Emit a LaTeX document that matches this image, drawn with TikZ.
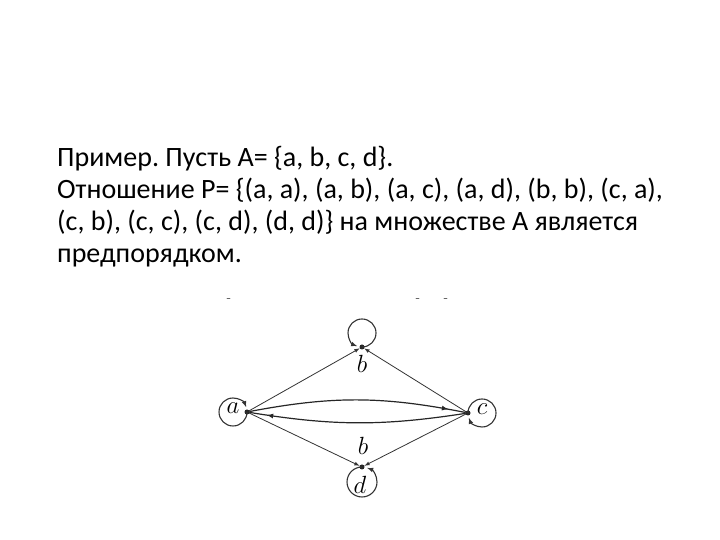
\documentclass[tikz,border=0pt]{standalone}
\usepackage{fontspec}
\setmainfont{Carlito}
\usetikzlibrary{arrows}
\usetikzlibrary{decorations.markings}
\frenchspacing

\begin{document}
\begin{tikzpicture}[x=1pt,y=1pt,cap=round,>=latex,
	every node/.style={inner sep=0pt},
	txt/.style={anchor=base west,font=\fontsize{28}{32}\selectfont},
	pt/.style={circle,fill=black!85,minimum size=5pt},
	lbl/.style={font=\fontsize{24}{24}\selectfont},
	edge/.style={->,draw=black!80,line width=0.8pt},
	curved/.style={draw=black!85,line width=1.2pt,postaction={decorate},
		decoration={markings,mark=at position 0.92 with {\arrow{latex}}}},
	ring/.style={->,draw=black!80,line width=1.1pt}]
	\useasboundingbox (0,0) rectangle (720,540);
	% text
	\node[txt] (l1) at (57,373) {Пример. Пусть А= \{a, b, c, d\}.};
	\node[txt] (l2) at (57,341) {Отношение P= \{(a, a), (a, b), (a, c), (a, d), (b, b), (c, a),};
	\node[txt] (l3) at (57,309) {(c, b), (c, c), (c, d), (d, d)\} на множестве А является};
	\node[txt] (l4) at (57,277) {предпорядком.};
	% stray marks
	\draw[black!60,line width=0.8pt] (227,242) -- (230,242);
	\draw[black!60,line width=0.8pt] (416,242) -- (419,242);
	\draw[black!60,line width=0.8pt] (444,242) -- (447,242);
	% points
	\node[pt] (a) at (247,128) {};
	\node[pt] (b) at (362,193) {};
	\node[pt] (c) at (468,127) {};
	\node[pt] (d) at (362,73) {};
	% loops
	\draw[ring] (a) arc[start angle=0,end angle=-340,radius=14];
	\draw[ring] (b) arc[start angle=-90,end angle=250,radius=14];
	\draw[ring] (c) arc[start angle=180,end angle=-160,radius=14];
	\draw[ring] (d) arc[start angle=90,end angle=430,radius=15];
	% labels
	\node[lbl] (la) at (233,132) {$a$};
	\node[lbl] (lb) at (362,176) {$b$};
	\node[lbl] (lc) at (482,131) {$c$};
	\node[lbl] (ld) at (360,55) {$d$};
	\node[lbl] (lb2) at (363,94) {$b$};
	% arcs
	\draw[edge] (a) -- (b);
	\draw[edge] (c) -- (b);
	\draw[edge] (a) -- (d);
	\draw[edge] (c) -- (d);
	\draw[curved] (a) to[bend left=11] (c);
	\draw[curved] (c) to[bend left=9] (a);
\end{tikzpicture}
\end{document}
